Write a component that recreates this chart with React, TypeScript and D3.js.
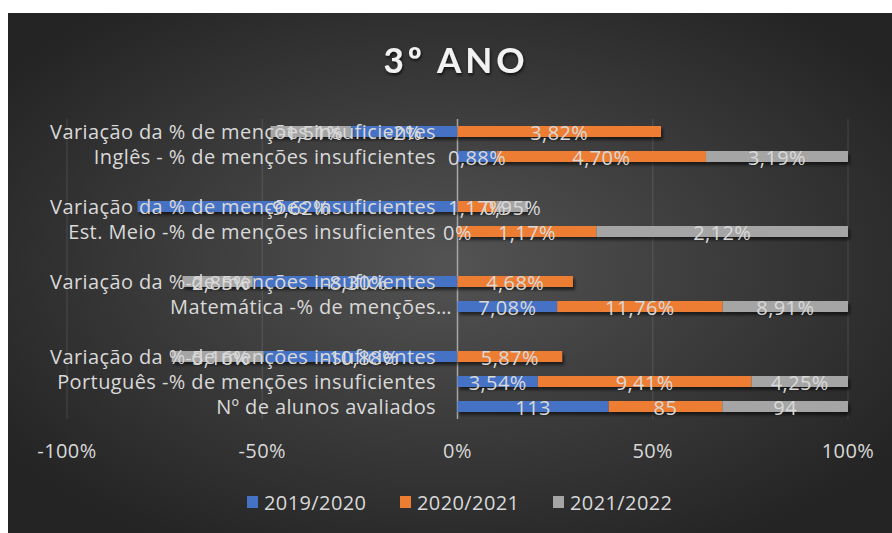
import React, { useEffect, useRef } from 'react';
import * as d3 from 'd3';

// categorias de baixo para cima (as vazias são os espaços entre disciplinas)
const categories = [
    'Nº de alunos avaliados',
    'Português -% de menções insuficientes',
    'Variação da % de menções insuficientes',
    '',
    'Matemática -% de menções…',
    'Variação da % de menções insuficientes',
    '',
    'Est. Meio -% de menções insuficientes',
    'Variação da % de menções insuficientes',
    '',
    'Inglês - % de menções insuficientes',
    'Variação da % de menções insuficientes',
];

const seriesNames = ['2019/2020', '2020/2021', '2021/2022'];
const s2019 = [113, 3.54, -10.88, null, 7.08, -8.3, null, 0, -9.62, null, 0.88, -2];
const s2020 = [85, 9.41, 5.87, null, 11.76, 4.68, null, 1.17, 1.17, null, 4.7, 3.82];
const s2021 = [94, 4.25, -5.16, null, 8.91, -2.85, null, 2.12, 0.95, null, 3.19, -1.51];
const seriesColors = ['#4472C4', '#ED7D31', '#A5A5A5'];
const xTicks = [-1, -0.5, 0, 0.5, 1];
const title = '3º ANO';

const FONT = '"Open Sans", "Noto Sans", sans-serif';
const TITLE_FONT = 'Lato, "Open Sans", sans-serif';
const TEXT = '#d9d9d9';
const SIZE = '20px';
const SPACING = '0.4px';

const App: React.FC = () => {
    const svgRef = useRef<SVGSVGElement>(null);

    useEffect(() => {
        if (!svgRef.current) return;
        const svg = d3.select(svgRef.current);
        svg.selectAll('*').remove();

        const width = 892;
        const height = 533;
        const plot = { left: 67, right: 848, top: 119, bottom: 419 };

        const defs = svg.append('defs');
        const grad = defs.append('radialGradient')
            .attr('id', 'bg')
            .attr('cx', '50%').attr('cy', '48%').attr('r', '62%');
        grad.append('stop').attr('offset', '0%').attr('stop-color', '#535353');
        grad.append('stop').attr('offset', '100%').attr('stop-color', '#242424');

        const shadow = defs.append('filter').attr('id', 'shadow')
            .attr('x', '-10%').attr('y', '-50%').attr('width', '130%').attr('height', '250%');
        shadow.append('feDropShadow')
            .attr('dx', 2).attr('dy', 3).attr('stdDeviation', 1.5)
            .attr('flood-color', '#000').attr('flood-opacity', 0.55);

        const tshadow = defs.append('filter').attr('id', 'tshadow');
        tshadow.append('feDropShadow')
            .attr('dx', 1).attr('dy', 2).attr('stdDeviation', 1.5)
            .attr('flood-color', '#000').attr('flood-opacity', 0.7);

        // fundo do gráfico
        svg.append('rect')
            .attr('x', 8).attr('y', 13)
            .attr('width', width - 8).attr('height', height - 13)
            .attr('fill', 'url(#bg)');

        // título
        svg.append('text')
            .attr('x', 456).attr('y', 73)
            .attr('text-anchor', 'middle')
            .attr('font-family', TITLE_FONT)
            .attr('font-weight', 'bold')
            .attr('font-size', '35px')
            .attr('letter-spacing', '4px')
            .attr('fill', '#f2f2f2')
            .attr('filter', 'url(#tshadow)')
            .text(title);

        const x = d3.scaleLinear().domain([-1, 1]).range([plot.left, plot.right]);
        const y = d3.scaleBand<string>()
            .domain(d3.range(categories.length).map(String))
            .range([plot.bottom, plot.top])
            .paddingInner(0.56)
            .paddingOuter(0.28);

        // linhas de grelha verticais
        xTicks.forEach(t => {
            svg.append('line')
                .attr('x1', x(t)).attr('x2', x(t))
                .attr('y1', plot.top).attr('y2', plot.bottom)
                .attr('stroke', t === 0 ? '#a6a6a6' : 'rgba(255,255,255,0.13)')
                .attr('stroke-width', t === 0 ? 1.5 : 1);
        });

        // tabela normalizada (100% empilhado, negativos para a esquerda)
        const rows = categories.map((c, i) => {
            const vals = [s2019[i], s2020[i], s2021[i]];
            const total = d3.sum(vals, v => Math.abs(v ?? 0)) || 1;
            const row: any = { idx: i, blank: vals.every(v => v === null) };
            seriesNames.forEach((k, j) => {
                row[k] = (vals[j] ?? 0) / total;
                row[k + '_raw'] = vals[j];
            });
            return row;
        });

        const stacked = d3.stack<any>()
            .keys(seriesNames)
            .offset(d3.stackOffsetDiverging)(rows);

        const bars = svg.append('g');
        stacked.forEach((layer, j) => {
            layer.forEach(seg => {
                if (seg.data.blank) return;
                const x0 = x(Math.min(seg[0], seg[1]));
                const x1 = x(Math.max(seg[0], seg[1]));
                if (x1 - x0 <= 0) return;
                bars.append('rect')
                    .attr('x', x0)
                    .attr('y', y(String(seg.data.idx))!)
                    .attr('width', x1 - x0)
                    .attr('height', y.bandwidth())
                    .attr('fill', seriesColors[j])
                    .attr('filter', 'url(#shadow)');
            });
        });

        const label = (sel: any) => sel
            .attr('font-family', FONT)
            .attr('font-size', SIZE)
            .attr('letter-spacing', SPACING)
            .attr('fill', TEXT);

        // rótulos das categorias
        categories.forEach((c, i) => {
            if (!c) return;
            svg.append('text')
                .attr('x', c.endsWith('…') ? 452 : 436)
                .attr('y', y(String(i))! + y.bandwidth() / 2)
                .attr('text-anchor', 'end')
                .attr('dominant-baseline', 'central')
                .call(label)
                .text(c);
        });

        // rótulos de dados
        const fmt = (v: number, i: number) => {
            if (i === 0) return String(v);
            const s = Number.isInteger(v) ? String(v) : v.toFixed(2).replace('.', ',');
            return s + '%';
        };
        stacked.forEach((layer, j) => {
            layer.forEach(seg => {
                const raw = seg.data[seriesNames[j] + '_raw'];
                if (raw === null || raw === undefined) return;
                svg.append('text')
                    .attr('x', x((seg[0] + seg[1]) / 2))
                    .attr('y', y(String(seg.data.idx))! + y.bandwidth() / 2 + 1)
                    .attr('text-anchor', 'middle')
                    .attr('dominant-baseline', 'central')
                    .call(label)
                    .text(fmt(raw, seg.data.idx));
            });
        });

        // eixo horizontal
        xTicks.forEach(t => {
            svg.append('text')
                .attr('x', x(t))
                .attr('y', 450)
                .attr('text-anchor', 'middle')
                .attr('dominant-baseline', 'central')
                .call(label)
                .text(`${Math.round(t * 100)}%`);
        });

        // legenda
        const legendX = [247, 400, 553];
        seriesNames.forEach((name, j) => {
            svg.append('rect')
                .attr('x', legendX[j]).attr('y', 496)
                .attr('width', 11).attr('height', 12)
                .attr('fill', seriesColors[j]);
            svg.append('text')
                .attr('x', legendX[j] + 17)
                .attr('y', 502)
                .attr('dominant-baseline', 'central')
                .call(label)
                .text(name);
        });
    }, []);

    return (
        <svg
            ref={svgRef}
            width="892"
            height="533"
            style={{ position: 'absolute', left: 0, top: 0 }}
        ></svg>
    );
};

export default App;
